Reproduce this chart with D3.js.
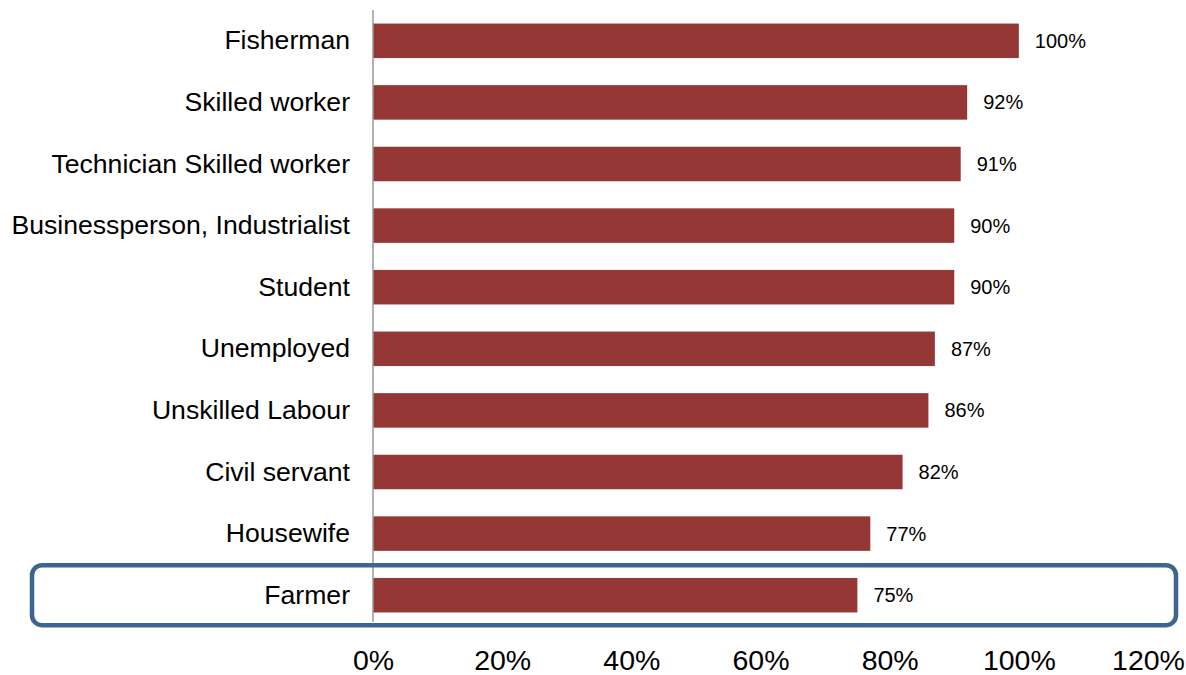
<!DOCTYPE html>
<html>
<head>
<meta charset="utf-8">
<script src="https://cdn.jsdelivr.net/npm/d3@7"></script>
<style>
  html, body { margin: 0; padding: 0; background: #fff; }
  svg { display: block; font-family: Arial, "Liberation Sans", sans-serif; }
</style>
</head>
<body>
<svg id="chart" width="1186" height="675"></svg>
<script>
// Share of respondents by occupation
const categories = [
  "Fisherman", "Skilled worker", "Technician Skilled worker",
  "Businessperson, Industrialist", "Student", "Unemployed",
  "Unskilled Labour", "Civil servant", "Housewife", "Farmer"
];
const values = [100, 92, 91, 90, 90, 87, 86, 82, 77, 75];
const tickValues = [0, 20, 40, 60, 80, 100, 120];
const highlighted = "Farmer";

const svg = d3.select("#chart");

const x = d3.scaleLinear().domain([0, 120]).range([373, 1148]);
const y = d3.scaleBand().domain(categories).range([10, 626]).paddingInner(0.44).paddingOuter(0.22);

// Bars
svg.append("g").selectAll("rect")
  .data(categories)
  .join("rect")
  .attr("x", x(0))
  .attr("y", d => y(d))
  .attr("width", (d, i) => x(values[i]) - x(0))
  .attr("height", y.bandwidth())
  .attr("fill", "#953735");

// Value labels
svg.append("g").selectAll("text")
  .data(categories)
  .join("text")
  .attr("x", (d, i) => x(values[i]) + 16)
  .attr("y", d => y(d) + y.bandwidth() / 2)
  .attr("dy", "0.35em")
  .attr("font-size", 20)
  .attr("fill", "#000")
  .text((d, i) => values[i] + "%");

// Category axis (left)
const yAxis = svg.append("g")
  .attr("transform", `translate(${x(0)},0)`)
  .call(d3.axisLeft(y).tickSize(0).tickPadding(23));
yAxis.select(".domain").remove();
yAxis.selectAll("text")
  .attr("font-size", 26.6)
  .attr("font-family", "Arial, 'Liberation Sans', sans-serif")
  .attr("fill", "#000");

svg.append("line")
  .attr("x1", x(0)).attr("x2", x(0))
  .attr("y1", 10).attr("y2", 622)
  .attr("stroke", "#989898")
  .attr("stroke-width", 1.5);

// Value axis (bottom), labels only
const xAxis = svg.append("g")
  .attr("transform", "translate(0,622)")
  .call(d3.axisBottom(x).tickValues(tickValues).tickFormat(d => d + "%").tickSize(0).tickPadding(28));
xAxis.select(".domain").remove();
xAxis.selectAll("text")
  .attr("font-size", 28.5)
  .attr("font-family", "Arial, 'Liberation Sans', sans-serif")
  .attr("fill", "#000");

// Highlight frame around the selected row
const hy = y(highlighted) + y.bandwidth() / 2;
svg.append("rect")
  .attr("x", 32)
  .attr("y", hy - 30)
  .attr("width", 1144)
  .attr("height", 60)
  .attr("rx", 10)
  .attr("ry", 10)
  .attr("fill", "none")
  .attr("stroke", "#3E6490")
  .attr("stroke-width", 4.5);
</script>
</body>
</html>
